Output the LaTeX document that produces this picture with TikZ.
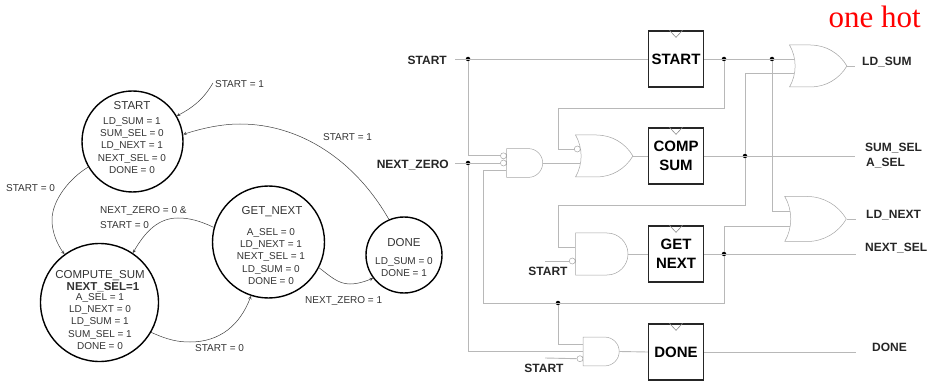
\documentclass[tikz,border=0pt]{standalone}
\usepackage{fontspec}
\setmainfont{Liberation Sans}
\newfontfamily\hotfont{Liberation Serif}
\usetikzlibrary{shapes.gates.logic.US}
\tikzset{
  statering/.style={circle,draw,line width=1.4pt,inner sep=0pt},
  statetxt/.style={font=\fontsize{10}{12.35}\selectfont,align=center,text=black!80,inner sep=0pt},
  titletxt/.style={font=\fontsize{11.5}{13}\selectfont,text=black!80,inner sep=0pt},
  edge/.style={->,>=stealth,black!75,line width=0.5pt},
  wire/.style={black!28,line width=0.9pt},
  regbox/.style={draw,line width=1.3pt,black!85,minimum width=55pt,minimum height=56pt,inner sep=0pt,
    align=center,font=\fontsize{15}{18.5}\selectfont\bfseries,text=black},
  notch/.style={black!45,line width=0.6pt},
  pin/.style={font=\fontsize{12}{14.5}\selectfont\bfseries,text=black!85,inner sep=0pt},
  junct/.style={circle,fill=black,inner sep=0pt,minimum size=4.5pt},
  gate/.style={draw=black!35,line width=0.5pt,fill=white,inner sep=0pt,
    logic gate inverted radius=3pt,minimum width=36pt,minimum height=28pt},
}
\begin{document}
\begin{tikzpicture}[x=1pt,y=-1pt]
  \useasboundingbox (0,0) rectangle (929,382);
  % state diagram
  \node[statering,minimum size=101pt] (startst) at (132.5,141.5) {};
  \node[statering,minimum size=118pt] (compst) at (99.5,302.5) {};
  \node[statering,minimum size=112pt] (getst) at (268.5,242) {};
  \node[statering,minimum size=76pt] (donest) at (404,255) {};
  \node[titletxt] (starttitle) at (132,106) {START};
  \node[statetxt,anchor=north] (starttxt) at (132,117) {LD\_SUM = 1\\SUM\_SEL = 0\\LD\_NEXT = 1\\NEXT\_SEL = 0\\DONE = 0};
  \node[titletxt] (comptitle) at (100,276) {COMPUTE\_SUM};
  \node[titletxt] (compsel) at (103,287) {\textbf{NEXT\_SEL=1}};
  \node[statetxt,anchor=north] (comptxt) at (100,293) {A\_SEL = 1\\LD\_NEXT = 0\\LD\_SUM = 1\\SUM\_SEL = 1\\DONE = 0};
  \node[titletxt] (gettitle) at (272,212) {GET\_NEXT};
  \node[statetxt,anchor=north] (gettxt) at (271,228) {A\_SEL = 0\\LD\_NEXT = 1\\NEXT\_SEL = 1\\LD\_SUM = 0\\DONE = 0};
  \node[titletxt] (donetitle) at (404,243) {DONE};
  \node[statetxt,anchor=north] (donetxt) at (404,257) {LD\_SUM = 0\\DONE = 1};
  \node[statetxt,anchor=west] (lbla) at (215,84) {START = 1};
  \node[statetxt,anchor=west] (lblb) at (323,137) {START = 1};
  \node[statetxt,anchor=west] (lblc) at (6,188) {START = 0};
  \node[statetxt,anchor=west] (lbld) at (100,211) {NEXT\_ZERO = 0 \&};
  \node[statetxt,anchor=west] (lble) at (100,225) {START = 0};
  \node[statetxt,anchor=west] (lblf) at (195,348) {START = 0};
  \node[statetxt,anchor=west] (lblg) at (305,301) {NEXT\_ZERO = 1};
  \coordinate (entry) at (213,83);
  \draw[edge] (entry) .. controls (203,100) and (192,108) .. (startst.30);
  \draw[edge] (donest.113) .. controls (355,160) and (300,124) .. (240,124) .. controls (220,124) and (200,129) .. (startst.8);
  \draw[edge] (startst.210) .. controls (70,178) and (52,200) .. (52,220) .. controls (52,232) and (57,244) .. (compst.126);
  \draw[edge] (getst.165) .. controls (200,221) and (190,218) .. (178,218) .. controls (158,218) and (145,232) .. (compst.56);
  \draw[edge] (compst.-30) .. controls (168,340) and (178,342) .. (190,342) .. controls (220,342) and (240,325) .. (getst.-108);
  \draw[edge] (getst.-27) .. controls (330,276) and (338,284) .. (350,284) .. controls (358,284) and (366,281) .. (donest.-143);
  % registers
  \foreach \name/\y/\txt in {regstart/59/START,regcomp/156/{COMP\\SUM},regget/254/{GET\\NEXT},regdone/352/DONE}{
    \node[regbox] (\name) at (676,\y) {\txt};
    \draw[notch] ([xshift=-6.5pt]\name.north) -- ++(6.5,7) -- ++(6.5,-7);
  }
  % gates
  \node[gate,and gate US,logic gate inputs=iin,logic gate input sep=7pt] (andzero) at (523.5,163) {};
  \node[gate,or gate US,logic gate inputs=in,logic gate input sep=14pt] (orcomp) at (600,156) {};
  \node[gate,and gate US,logic gate inputs=ni,logic gate input sep=14pt] (andget) at (600,254) {};
  \node[gate,and gate US,logic gate inputs=nni,logic gate input sep=7pt] (anddone) at (600,351.5) {};
  \node[gate,or gate US,logic gate inputs=nn,logic gate input sep=14pt] (orsum) at (814,66) {};
  \node[gate,or gate US,logic gate inputs=nn,logic gate input sep=15pt] (ornext) at (811,219) {};
  % pins
  \node[pin,anchor=east] (pstart) at (447,60) {START};
  \node[pin,anchor=east] (pzero) at (449,165) {NEXT\_ZERO};
  \node[pin,anchor=center] (pstartb) at (548,271) {START};
  \node[pin,anchor=center] (pstartc) at (544,368) {START};
  \node[pin,anchor=west] (psum) at (862,62) {LD\_SUM};
  \node[pin,anchor=west] (psel) at (865,148) {SUM\_SEL};
  \node[pin,anchor=west] (pasel) at (866,163) {A\_SEL};
  \node[pin,anchor=west] (pldn) at (866,215) {LD\_NEXT};
  \node[pin,anchor=west] (pnsel) at (865,248) {NEXT\_SEL};
  \node[pin,anchor=west] (pdone) at (872,347) {DONE};
  \node[font=\fontsize{31}{34}\hotfont,text=red,inner sep=0pt,anchor=east] (onehot) at (921,17) {one hot};
  % junctions
  \node[junct] (jstart) at (468,59) {};
  \node[junct] (jzero) at (468,163) {};
  \node[junct] (jback) at (724,59) {};
  \node[junct] (jdown) at (772,59) {};
  \node[junct] (jcomp) at (745,156) {};
  \node[junct] (jget) at (724,254) {};
  \node[junct] (jlow) at (558,303) {};
  % free wire ends
  \coordinate (wstart) at (455,59);
  \coordinate (wzero) at (455,163);
  \coordinate (wgets) at (545,261);
  \coordinate (wdones) at (545,358);
  \coordinate (wsum) at (855,66);
  \coordinate (wsel) at (855,156);
  \coordinate (wldn) at (856,219);
  \coordinate (wnsel) at (856,254);
  \coordinate (wdone) at (856,352);
  % wires
  \draw[wire] (wstart) -- (regstart.west);
  \draw[wire] (regstart.east) -- (orsum.input 1);
  \draw[wire] (jstart) |- (andzero.input 1);
  \draw[wire] (wzero) -- (andzero.input 2);
  \draw[wire] (jzero) |- (anddone.input 2);
  \draw[wire] (andzero.output) -- (orcomp.input 2);
  \draw[wire] (orcomp.output) -- (regcomp.west);
  \draw[wire] (jback) |- (558,108) |- (orcomp.input 1);
  \draw[wire] (regcomp.east) -- (wsel);
  \draw[wire] (jcomp) |- (orsum.input 2);
  \draw[wire] (jcomp) |- (558,205) |- (andget.input 1);
  \draw[wire] (jdown) |- (ornext.input 1);
  \draw[wire] (andget.output) -- (regget.west);
  \draw[wire] (wgets) -- (andget.input 2);
  \draw[wire] (regget.east) -- (wnsel);
  \draw[wire] (jget) |- (ornext.input 2);
  \draw[wire] (jget) |- (483,303) |- (andzero.input 3);
  \draw[wire] (jlow) |- (anddone.input 1);
  \draw[wire] (wdones) -- (anddone.input 3);
  \draw[wire] (anddone.output) -- (regdone.west);
  \draw[wire] (regdone.east) -- (wdone);
  \draw[wire] (orsum.output) -- (wsum);
  \draw[wire] (ornext.output) -- (wldn);
\end{tikzpicture}
\end{document}
